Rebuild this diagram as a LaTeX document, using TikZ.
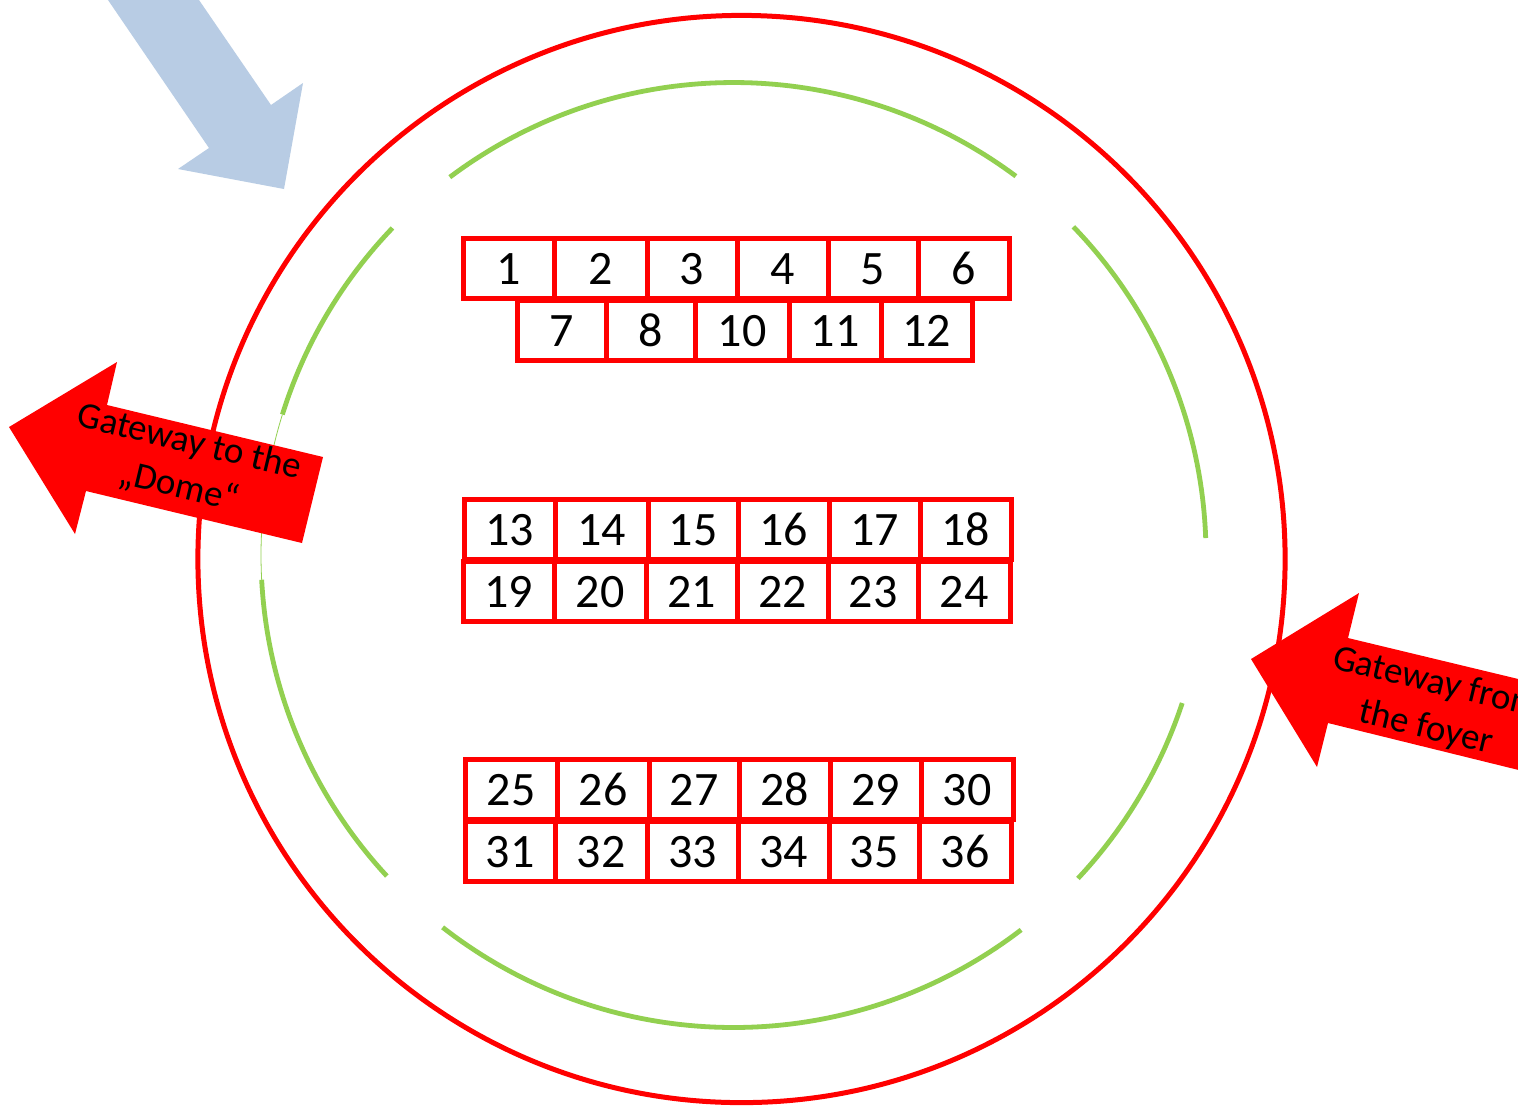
\documentclass[tikz,border=0pt]{standalone}
\usepackage{fontspec}
\setmainfont{Carlito}
\definecolor{gwred}{HTML}{FF0000}
\definecolor{gwgreen}{HTML}{92D050}
\definecolor{gwblue}{HTML}{B8CCE4}
\tikzset{
  cell/.style={draw=gwred,line width=2.5pt,fill=white,inner sep=0pt,minimum height=30pt,text height=16pt,text depth=0pt,font=\fontsize{24}{24}\selectfont,text=black},
  ringpart/.style={draw=gwgreen,line width=2.4pt,samples=80},
  gwarrow/.style={fill=gwred,draw=none},
  gwlabel/.style={align=center,inner sep=0pt,rotate=-13.5,text=black,font=\fontsize{18.5}{23}\selectfont}
}
\newcommand{\cellrow}[2]{%
  \foreach \cellnum/\lft/\rgt in {#2}{
    \pgfmathsetmacro{\cellw}{(\rgt-\lft)*0.5}
    \node[cell,minimum width=\cellw pt] (n\cellnum) at ({(\lft+\rgt)/2},#1) {\cellnum};
  }}
\begin{document}
\begin{tikzpicture}[x=0.5pt,y=-0.5pt]
\useasboundingbox (0,0) rectangle (1518,1110);
\clip (0,0) rectangle (1518,1110);
\fill[white] (0,0) rectangle (1518,1110);
% outer ring
\draw[gwred,line width=2.5pt] (741.5,559) circle[radius=271.8pt];
% green ring segments
\draw[ringpart] plot[domain=233.1:306.7] ({733.5+472.5*cos(\x)},{555+472.5*sin(\x)});
\draw[ringpart] plot[domain=-44:-2.06] ({733.5+472.5*cos(\x)},{555+472.5*sin(\x)});
\draw[ringpart] plot[domain=18.26:43.2] ({733.5+472.5*cos(\x)},{555+472.5*sin(\x)});
\draw[ringpart] plot[domain=52.5:128] ({733.5+472.5*cos(\x)},{555+472.5*sin(\x)});
\draw[ringpart] plot[domain=137.2:177] ({733.5+472.5*cos(\x)},{555+472.5*sin(\x)});
\draw[ringpart] plot[domain=197.3:223.8] ({733.5+472.5*cos(\x)},{555+472.5*sin(\x)});
\draw[ringpart,line width=0.4pt] plot[domain=177:197.3] ({733.5+472.5*cos(\x)},{555+472.5*sin(\x)});
% blue arrow
\fill[gwblue] (284,189) -- (303,83) -- (271,105) -- (199,0) -- (192,-10) -- (101,-10) -- (108,0) -- (209,148) -- (178,169) -- cycle;
% red arrows
\fill[gwarrow] (9,427) -- (117,362) -- (107,405) -- (323,457) -- (302,543) -- (86,491) -- (75,534) -- cycle;
\fill[gwarrow] (1251,659) -- (1359,593) -- (1348,638) -- (1564,690) -- (1543,776) -- (1328,723) -- (1317,767) -- cycle;
\node[gwlabel] (dome) at (184,465) {Gateway to the\\„Dome“};
\node[gwlabel] (foyer) at (1431,706) {Gateway from\\the foyer};
% cells
\cellrow{330}{7/517/606,8/606/695,10/695/789,11/789/881,12/881/972}
\cellrow{268}{1/463/554,2/554/647,3/647/737,4/737/828,5/828/918,6/918/1009}
\cellrow{591}{19/463/554,20/554/646,21/646/737,22/737/828,23/828/918,24/918/1010}
\cellrow{529}{13/464/555,14/555/648,15/648/738,16/738/829,17/829/920,18/920/1011}
\cellrow{851}{31/465/555,32/555/647,33/647/738,34/738/829,35/829/919,36/919/1011}
\cellrow{789.5}{25/465/557,26/557/649,27/649/739,28/739/830,29/830/921,30/921/1013}
\end{tikzpicture}
\end{document}
